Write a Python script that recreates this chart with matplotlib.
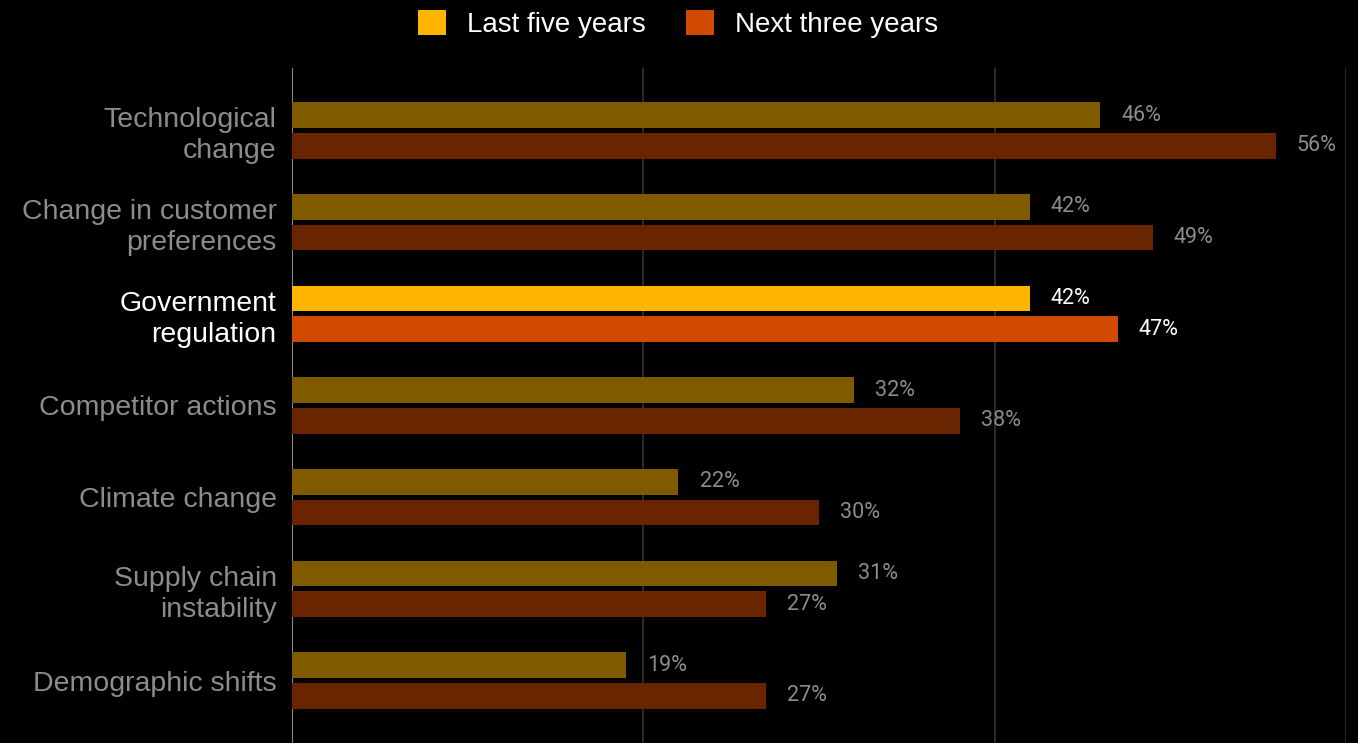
import numpy as np
import matplotlib.pyplot as plt
from matplotlib.patches import Patch

plt.rcParams['font.family'] = ['Liberation Sans', 'DejaVu Sans']

categories = ['Technological\nchange', 'Change in customer\npreferences', 'Government\nregulation',
              'Competitor actions', 'Climate change', 'Supply chain\ninstability', 'Demographic shifts']
last_five = [46, 42, 42, 32, 22, 31, 19]
next_three = [56, 49, 47, 38, 30, 27, 27]
highlight = 2

yellow, orange = '#FFB600', '#D04A02'
yellow_dim, orange_dim = '#7F5A00', '#682500'

fig = plt.figure(figsize=(13.58, 7.43), dpi=100, facecolor='black')
ax = fig.add_axes([292 / 1358, 0, (1346 - 292) / 1358, 675 / 743])
ax.set_facecolor('black')

y = np.arange(len(categories))
h = 0.28
off = 0.167
c1 = [yellow if i == highlight else yellow_dim for i in y]
c2 = [orange if i == highlight else orange_dim for i in y]
ax.barh(y - off, last_five, height=h, color=c1, zorder=3)
ax.barh(y + off, next_three, height=h, color=c2, zorder=3)

for i in y:
    col = 'white' if i == highlight else '#8c8c8c'
    ax.text(last_five[i] + 1.2, i - off, f'{last_five[i]}%', va='center', ha='left',
            color=col, fontsize=15.5, family='Roboto')
    ax.text(next_three[i] + 1.2, i + off, f'{next_three[i]}%', va='center', ha='left',
            color=col, fontsize=15.5, family='Roboto')

ax.set_xlim(0, 60)
ax.set_ylim(6.68, -0.68)
ax.set_xticks([0, 20, 40, 60])
ax.xaxis.grid(True, color='#333333', linewidth=1.2, zorder=0)
ax.axvline(0, color='#8a8a8a', linewidth=1.5, zorder=2)
ax.tick_params(length=0, labelbottom=False)
ax.set_yticks(y)
ax.set_yticklabels(categories, fontsize=20.5, linespacing=1.25)
for i, lab in enumerate(ax.get_yticklabels()):
    lab.set_color('white' if i == highlight else '#8c8c8c')
ax.tick_params(axis='y', pad=11)
for s in ax.spines.values():
    s.set_visible(False)

handles = [Patch(facecolor=yellow, label='Last five years'),
           Patch(facecolor=orange, label='Next three years')]
leg = fig.legend(handles=handles, loc='center', bbox_to_anchor=(678 / 1358, 1 - 24 / 743), ncol=2,
                 frameon=False, fontsize=20, handlelength=1.0, handleheight=1.0,
                 handletextpad=0.75, columnspacing=1.45)
for t in leg.get_texts():
    t.set_color('white')

fig.savefig('out.png', dpi=100, facecolor='black')
